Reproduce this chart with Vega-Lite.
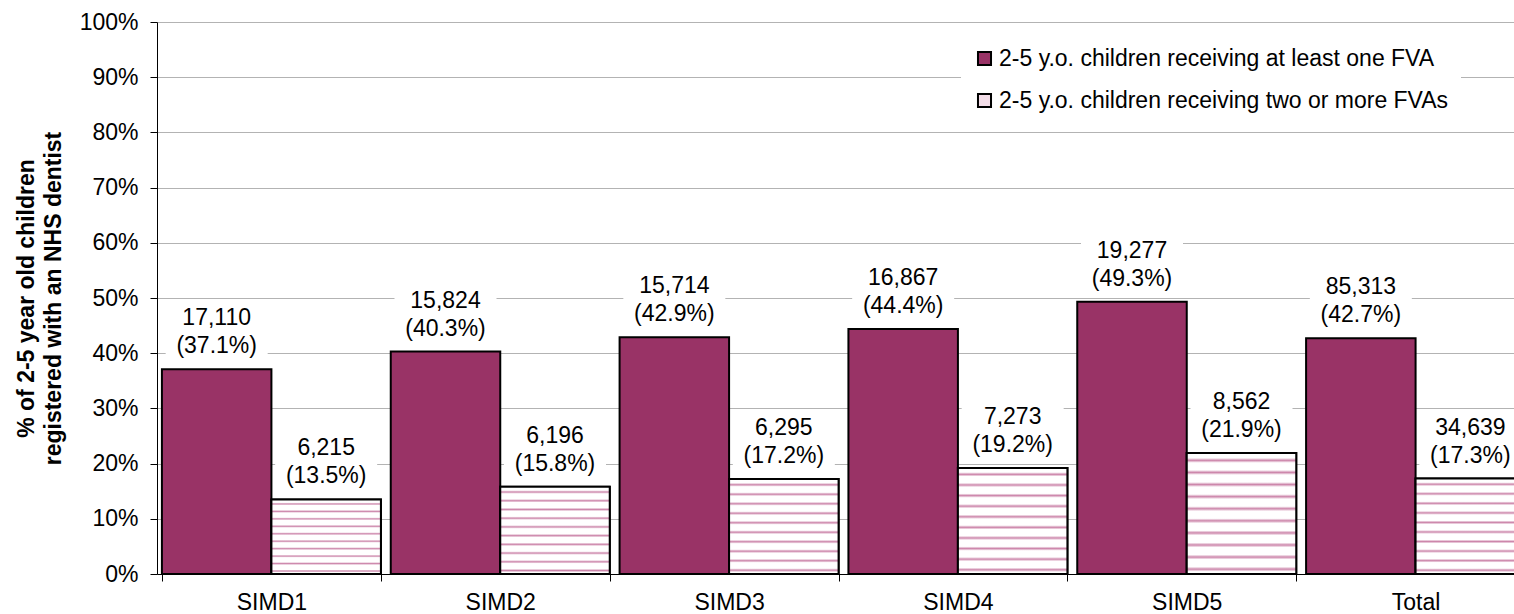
{
  "$schema": "https://vega.github.io/schema/vega-lite/v6.json",
  "autosize": "none",
  "width": 1357,
  "height": 552,
  "padding": {"left": 157, "top": 22, "right": 0, "bottom": 40},
  "background": "white",
  "config": {
    "font": "Liberation Sans",
    "view": {"stroke": null},
    "axis": {"labelFont": "Liberation Sans", "titleFont": "Liberation Sans", "labelColor": "black", "titleColor": "black"},
    "legend": {"labelFont": "Liberation Sans"}
  },
  "data": {
    "values": [
      {"area": "SIMD1", "series": "2-5 y.o. children receiving at least one FVA", "pct": 0.371, "count": 17110},
      {"area": "SIMD1", "series": "2-5 y.o. children receiving two or more FVAs", "pct": 0.135, "count": 6215},
      {"area": "SIMD2", "series": "2-5 y.o. children receiving at least one FVA", "pct": 0.403, "count": 15824},
      {"area": "SIMD2", "series": "2-5 y.o. children receiving two or more FVAs", "pct": 0.158, "count": 6196},
      {"area": "SIMD3", "series": "2-5 y.o. children receiving at least one FVA", "pct": 0.429, "count": 15714},
      {"area": "SIMD3", "series": "2-5 y.o. children receiving two or more FVAs", "pct": 0.172, "count": 6295},
      {"area": "SIMD4", "series": "2-5 y.o. children receiving at least one FVA", "pct": 0.444, "count": 16867},
      {"area": "SIMD4", "series": "2-5 y.o. children receiving two or more FVAs", "pct": 0.192, "count": 7273},
      {"area": "SIMD5", "series": "2-5 y.o. children receiving at least one FVA", "pct": 0.493, "count": 19277},
      {"area": "SIMD5", "series": "2-5 y.o. children receiving two or more FVAs", "pct": 0.219, "count": 8562},
      {"area": "Total", "series": "2-5 y.o. children receiving at least one FVA", "pct": 0.427, "count": 85313},
      {"area": "Total", "series": "2-5 y.o. children receiving two or more FVAs", "pct": 0.173, "count": 34639}
    ]
  },
  "encoding": {
    "x": {
      "field": "area", "type": "nominal", "sort": null,
      "scale": {"range": [0, 1373], "paddingInner": 0.043, "paddingOuter": 0.0215},
      "axis": {"title": null, "labelAngle": 0, "labelFontSize": 23, "labelPadding": 10, "domainColor": "black", "domainWidth": 1, "tickColor": "black", "tickSize": 7, "tickBand": "extent", "grid": false}
    },
    "xOffset": {"field": "series", "type": "nominal", "sort": null, "scale": {"paddingInner": 0, "paddingOuter": 0}},
    "y": {
      "field": "pct", "type": "quantitative",
      "scale": {"domain": [0, 1], "nice": false},
      "axis": {
        "title": ["% of 2-5 year old children", "registered with an NHS dentist"],
        "titleFontSize": 23, "titleFontWeight": "bold", "titleLineHeight": 27, "titlePadding": 14,
        "values": [0, 0.1, 0.2, 0.3, 0.4, 0.5, 0.6, 0.7, 0.8, 0.9, 1.0],
        "format": ".0%", "labelFontSize": 23, "labelPadding": 12,
        "domainColor": "black", "domainWidth": 1, "tickColor": "black", "tickSize": 7,
        "grid": true, "gridColor": "#b3b3b3", "gridWidth": 1
      }
    }
  },
  "layer": [
    {
      "mark": {"type": "bar", "stroke": "black", "strokeWidth": 2},
      "encoding": {
        "fill": {
          "field": "series", "type": "nominal", "sort": null,
          "scale": {"range": ["#993366", "#f3dde8"]},
          "legend": {
            "title": null, "orient": "none", "legendX": 804, "legendY": 13,
            "fillColor": "white", "padding": 12, "symbolType": "square", "symbolSize": 170,
            "symbolStrokeColor": "black", "symbolStrokeWidth": 2, "symbolOpacity": 1,
            "labelFontSize": 23, "labelColor": "black", "labelLimit": 0, "labelOffset": 3, "rowPadding": 18
          }
        }
      }
    },
    {
      "transform": [{"filter": "datum.series == '2-5 y.o. children receiving two or more FVAs'"}],
      "mark": {
        "type": "bar", "stroke": "black", "strokeWidth": 2,
        "fill": {
          "gradient": "linear", "x1": 0, "y1": 0, "x2": 0, "y2": 1,
          "stops": [
            {"offset": 0, "color": "#ffffff"}, {"offset": 0.04, "color": "#ffffff"}, {"offset": 0.06, "color": "#cc85aa"}, {"offset": 0.08, "color": "#ffffff"},
            {"offset": 0.1, "color": "#ffffff"}, {"offset": 0.14, "color": "#ffffff"}, {"offset": 0.16, "color": "#cc85aa"}, {"offset": 0.18, "color": "#ffffff"},
            {"offset": 0.2, "color": "#ffffff"}, {"offset": 0.24, "color": "#ffffff"}, {"offset": 0.26, "color": "#cc85aa"}, {"offset": 0.28, "color": "#ffffff"},
            {"offset": 0.3, "color": "#ffffff"}, {"offset": 0.34, "color": "#ffffff"}, {"offset": 0.36, "color": "#cc85aa"}, {"offset": 0.38, "color": "#ffffff"},
            {"offset": 0.4, "color": "#ffffff"}, {"offset": 0.44, "color": "#ffffff"}, {"offset": 0.46, "color": "#cc85aa"}, {"offset": 0.48, "color": "#ffffff"},
            {"offset": 0.5, "color": "#ffffff"}, {"offset": 0.54, "color": "#ffffff"}, {"offset": 0.56, "color": "#cc85aa"}, {"offset": 0.58, "color": "#ffffff"},
            {"offset": 0.6, "color": "#ffffff"}, {"offset": 0.64, "color": "#ffffff"}, {"offset": 0.66, "color": "#cc85aa"}, {"offset": 0.68, "color": "#ffffff"},
            {"offset": 0.7, "color": "#ffffff"}, {"offset": 0.74, "color": "#ffffff"}, {"offset": 0.76, "color": "#cc85aa"}, {"offset": 0.78, "color": "#ffffff"},
            {"offset": 0.8, "color": "#ffffff"}, {"offset": 0.84, "color": "#ffffff"}, {"offset": 0.86, "color": "#cc85aa"}, {"offset": 0.88, "color": "#ffffff"},
            {"offset": 0.9, "color": "#ffffff"}, {"offset": 0.94, "color": "#ffffff"}, {"offset": 0.96, "color": "#cc85aa"}, {"offset": 0.98, "color": "#ffffff"},
            {"offset": 1, "color": "#ffffff"}
          ]
        }
      },
      "encoding": {}
    },
    {
      "mark": {"type": "point", "shape": "M-1,-0.6H1V0.6H-1Z", "filled": true, "fill": "white", "opacity": 1, "fillOpacity": 1, "strokeWidth": 0, "size": 10404, "yOffset": -37},
      "encoding": {}
    },
    {
      "mark": {"type": "text", "dy": -51, "fontSize": 23, "color": "black", "baseline": "middle", "align": "center"},
      "encoding": {"text": {"field": "count", "type": "quantitative", "format": ","}}
    },
    {
      "transform": [{"calculate": "'(' + format(datum.pct, '.1%') + ')'", "as": "pctlabel"}],
      "mark": {"type": "text", "dy": -23, "fontSize": 23, "color": "black", "baseline": "middle", "align": "center"},
      "encoding": {"text": {"field": "pctlabel", "type": "nominal"}}
    }
  ]
}
